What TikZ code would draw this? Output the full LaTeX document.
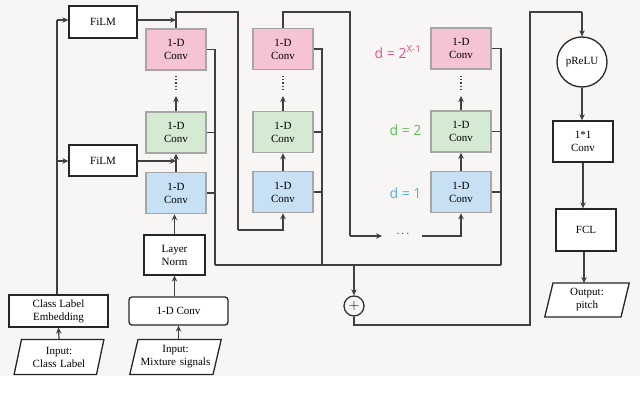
\documentclass[tikz,border=0pt]{standalone}
\usepackage{fontspec}
\setmainfont{Liberation Serif}
\newfontfamily\dsans{Open Sans}
\usetikzlibrary{arrows.meta,shapes.geometric}
\definecolor{bgc}{HTML}{F8F6F4}
\definecolor{pinkf}{HTML}{F5C3D4}
\definecolor{greenf}{HTML}{D5EAD3}
\definecolor{bluef}{HTML}{C8E0F4}
\definecolor{pinkt}{HTML}{E8508A}
\definecolor{greent}{HTML}{5BC05A}
\definecolor{bluet}{HTML}{4AB0EA}
\begin{document}
\begin{tikzpicture}[x=1pt,y=-1pt,
  line/.style={draw=black!75,line width=1.2pt},
  arr/.style={line,-{Stealth[length=6pt,width=5.5pt]}},
  conv/.style={draw=black!35,line width=1.5pt,minimum width=60pt,minimum height=41pt,align=center,inner sep=0pt,font=\fontsize{11}{13}\selectfont},
  box/.style={draw=black!85,line width=1.3pt,fill=white,align=center,inner sep=0pt,font=\fontsize{11}{13}\selectfont},
  io/.style={box,trapezium,trapezium left angle=70,trapezium right angle=110,minimum height=35pt,text width=75pt,trapezium stretches body},
  dlab/.style={font=\dsans\fontsize{14}{14}\selectfont,anchor=east}]
\useasboundingbox (0,0) rectangle (640,409);
\fill[bgc] (0,0) rectangle (640,376);
% column 1
\node[conv,fill=pinkf]  (p1) at (176,49.5) {1-D\\Conv};
\node[conv,fill=greenf] (g1) at (176,132.5) {1-D\\Conv};
\node[conv,fill=bluef]  (b1) at (176,193) {1-D\\Conv};
% column 2
\node[conv,fill=pinkf]  (p2) at (283,49) {1-D\\Conv};
\node[conv,fill=greenf] (g2) at (283,132) {1-D\\Conv};
\node[conv,fill=bluef]  (b2) at (283,192) {1-D\\Conv};
% column 3
\node[conv,fill=pinkf]  (p3) at (461,48.5) {1-D\\Conv};
\node[conv,fill=greenf] (g3) at (461,131.5) {1-D\\Conv};
\node[conv,fill=bluef]  (b3) at (461,192) {1-D\\Conv};
\node[dlab,text=pinkt]  at (425,52) {d = 2\textsuperscript{X-1}};
\node[dlab,text=greent] at (425,130) {d = 2};
\node[dlab,text=bluet]  at (425,193) {d = 1};
% vertical dots
\foreach \c/\n in {176/1,283/2,461/3}{
  \coordinate (d\n) at (\c,96);
  \draw[line,dotted,line width=1.6pt] (\c,76) -- (\c,90);
}
\draw[arr] (g1.north) -- (d1);
\draw[arr] (g2.north) -- (d2);
\draw[arr] (g3.north) -- (d3);
\draw[arr] (b1.north) -- (g1.south);
\draw[arr] (b2.north) -- (g2.south);
\draw[arr] (b3.north) -- (g3.south);
% input side
\node[box,minimum width=61pt,minimum height=40pt] (ln) at (174.5,255) {Layer\\Norm};
\node[box,rounded corners=3pt,minimum width=99pt,minimum height=28pt] (c1) at (178.5,311) {1-D Conv};
\node[box,minimum width=99pt,minimum height=32pt] (emb) at (58.5,311) {Class Label\\Embedding};
\node[io] (in1) at (59,357) {Input:\\Class Label};
\node[io] (in2) at (175.5,357) {Input:\\Mixture signals};
\node[box,minimum width=68pt,minimum height=32pt] (f1) at (103,22) {FiLM};
\node[box,minimum width=68pt,minimum height=31pt] (f2) at (103,160.5) {FiLM};
\draw[arr] (in1.north) -- (emb.south);
\draw[arr] (in2.north -| c1) -- (c1.south);
\draw[arr] (c1.north -| ln) -- (ln.south);
\draw[arr] (ln.north) -- (ln.north |- b1.south);
\coordinate (e1) at (57,20);
\coordinate (e2) at (57,161);
\draw[line] (emb.north -| e1) -- (e1);
\draw[arr] (e1) -- (f1.west |- e1);
\draw[arr] (e2) -- (f2.west |- e2);
\coordinate (t1) at (176,20);
\coordinate (t2) at (176,161);
\draw[arr] (f1.east |- t1) -- (t1);
\draw[arr] (f2.east |- t2) -- (t2);
% skip paths between columns
\coordinate (k1) at (176,12);
\coordinate (k2) at (238,12);
\coordinate (k3) at (238,230);
\draw[line] (p1.north) -- (k1) -- (k2) -- (k3);
\draw[arr] (k3) -- (k3 -| b2) -- (b2.south);
\coordinate (m1) at (283,12);
\coordinate (m2) at (350,12);
\coordinate (m3) at (350,236);
\coordinate (m4) at (382,236);
\node[inner sep=0pt,font=\fontsize{11}{11}\selectfont] (dots) at (403,234) {$\cdots$};
\coordinate (m5) at (422,236);
\draw[line] (p2.north) -- (m1) -- (m2) -- (m3);
\draw[arr] (m3) -- (m4);
\draw[arr] (m5) -- (m5 -| b3) -- (b3.south);
% residual outputs
\foreach \n/\x in {1/215,2/322,3/501}{
  \coordinate (r\n) at (\x,265);
  \draw[line] (p\n.east) -| (r\n);
  \draw[line] (g\n.east) -- (g\n.east -| r\n);
  \draw[line] (b\n.east) -- (b\n.east -| r\n);
}
\draw[line] (r1) -- (r3);
\node[circle,draw=black!80,line width=1.3pt,minimum size=20pt,inner sep=0pt,fill=bgc,font=\Large] (sum) at (354,306) {$+$};
\draw[arr] (354,265) -- (sum.north);
% output side
\node[circle,draw=black!85,line width=1.3pt,fill=white,minimum size=50pt,inner sep=0pt,font=\fontsize{11}{13}\selectfont] (pr) at (582,62) {pReLU};
\node[box,minimum width=60pt,minimum height=41pt] (c11) at (583,141.5) {1*1\\Conv};
\node[box,minimum width=60pt,minimum height=42pt] (fcl) at (586,230) {FCL};
\node[io,minimum height=34pt,text width=68pt] (out) at (587,300) {Output:\\pitch};
\coordinate (o1) at (354,325);
\coordinate (o2) at (530,325);
\coordinate (o3) at (530,12);
\coordinate (o4) at (582,12);
\draw[line] (sum.south) -- (o1) -- (o2) -- (o3) -- (o4);
\draw[arr] (o4) -- (pr.north);
\draw[arr] (pr.south) -- (pr.south |- c11.north);
\draw[arr] (c11.south) -- (c11.south |- fcl.north);
\draw[arr] (fcl.south -| 584,0) -- (584,283);
\end{tikzpicture}
\end{document}
